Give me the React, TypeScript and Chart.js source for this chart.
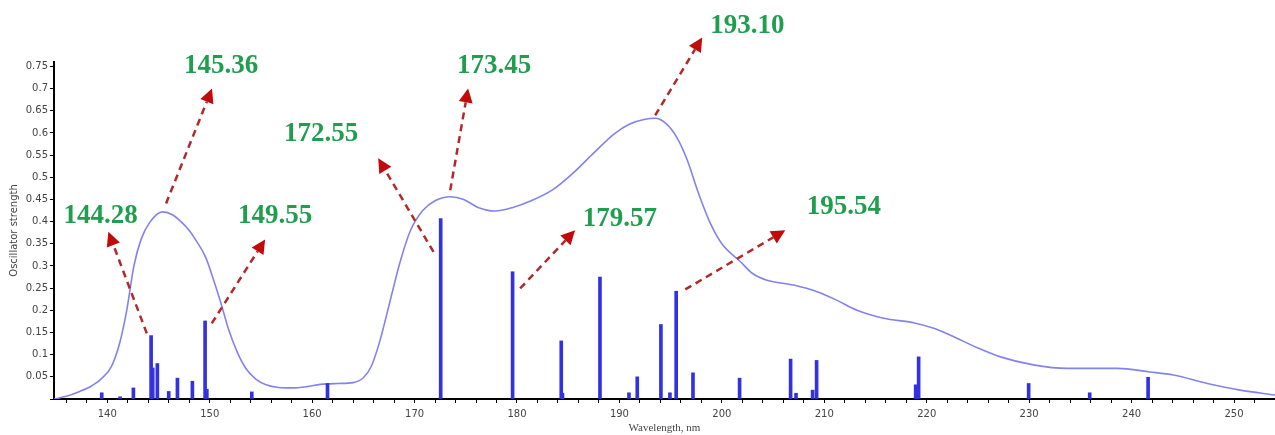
import React, { useEffect, useRef } from 'react';
import { Chart, registerables } from 'chart.js';

Chart.register(...registerables);

// Broadened spectrum (wavelength nm, oscillator strength)
const curveWavelength = [
  134.8, 136.0, 137.3, 138.5, 139.3, 140.4, 141.2, 141.9, 142.6, 143.3, 144.2, 145.4,
  146.4, 147.2, 148.0, 148.6, 149.6, 150.5, 151.1, 151.8, 152.7, 153.5, 154.5, 155.5,
  156.7, 158.0, 159.5, 160.8, 162.5, 164.0, 165.0, 165.8, 166.6, 167.6, 168.6, 169.6,
  170.8, 172.0, 173.5, 174.8, 176.2, 177.8, 179.6, 181.5, 183.5, 185.5, 187.5, 189.5,
  191.0, 192.5, 193.5, 194.5, 195.6, 196.6, 197.7, 198.8, 200.0, 201.8, 203.0, 204.4, 207.0,
  209.3, 211.2, 213.2, 215.8, 218.7, 220.6, 222.3, 225.0, 227.2, 230.4, 233.7, 238.6,
  241.8, 244.1, 247.4, 250.6, 254.0,
];
const curveStrength = [
  0.0, 0.006, 0.017, 0.03, 0.043, 0.073, 0.125, 0.2, 0.3, 0.36, 0.4, 0.422,
  0.415, 0.4, 0.38, 0.36, 0.32, 0.26, 0.216, 0.16, 0.105, 0.07, 0.045, 0.032,
  0.026, 0.025, 0.028, 0.033, 0.035, 0.037, 0.048, 0.075, 0.13, 0.22, 0.31, 0.38,
  0.425, 0.447, 0.456, 0.45, 0.432, 0.424, 0.432, 0.448, 0.472, 0.51, 0.555, 0.598,
  0.62, 0.631, 0.633, 0.622, 0.59, 0.54, 0.465, 0.4, 0.35, 0.31, 0.283, 0.268, 0.257,
  0.242, 0.223, 0.2, 0.182, 0.172, 0.16, 0.144, 0.115, 0.095, 0.077, 0.069, 0.069,
  0.061, 0.054, 0.035, 0.02, 0.009,
];

// Individual transitions (stick spectrum)
const barWavelength = [
  139.46, 141.25, 142.55, 144.28, 144.44, 144.89, 146.0, 146.85, 148.31, 149.55, 149.72,
  154.11, 161.5, 172.55, 179.57, 184.32, 184.44, 188.1, 190.93, 191.74, 194.05, 194.93,
  195.54, 197.18, 201.73, 206.71, 207.24, 208.86, 209.25, 218.92, 219.21, 229.95, 235.91,
  241.61,
];
const barStrength = [
  0.014, 0.005, 0.025, 0.143, 0.07, 0.08, 0.017, 0.047, 0.04, 0.176, 0.022,
  0.016, 0.035, 0.407, 0.287, 0.131, 0.013, 0.275, 0.014, 0.05, 0.168, 0.014,
  0.243, 0.059, 0.047, 0.09, 0.013, 0.02, 0.087, 0.032, 0.095, 0.035, 0.014,
  0.049,
];

const xTickValues = [
  136, 138, 140, 142, 144, 146, 148, 150, 152, 154, 156, 158, 160, 162, 164, 166, 168, 170,
  172, 174, 176, 178, 180, 182, 184, 186, 188, 190, 192, 194, 196, 198, 200, 202, 204, 206,
  208, 210, 212, 214, 216, 218, 220, 222, 224, 226, 228, 230, 232, 234, 236, 238, 240, 242,
  244, 246, 248, 250, 252, 254,
];
const xLabelValues = [140, 150, 160, 170, 180, 190, 200, 210, 220, 230, 240, 250];
const yTickValues = [
  0, 0.05, 0.1, 0.15, 0.2, 0.25, 0.3, 0.35, 0.4, 0.45, 0.5, 0.55, 0.6, 0.65, 0.7, 0.75,
];

const peakLabels = ['144.28', '145.36', '149.55', '172.55', '173.45', '193.10', '179.57', '195.54'];

// Annotation placement in data space: label centre, arrow tail, arrow tip
const annotations = [
  { text: 0, at: [139.35, 0.4167], from: [143.86, 0.148], to: [140.11, 0.377] },
  { text: 1, at: [151.11, 0.7556], from: [145.74, 0.441], to: [150.23, 0.7] },
  { text: 2, at: [156.39, 0.4167], from: [150.2, 0.1705], to: [155.41, 0.3597] },
  { text: 3, at: [160.88, 0.6014], from: [171.85, 0.3318], to: [166.45, 0.5428] },
  { text: 4, at: [177.77, 0.7545], from: [173.48, 0.4707], to: [175.23, 0.7005] },
  { text: 5, at: [202.48, 0.8468], from: [193.49, 0.6396], to: [198.08, 0.8153] },
  { text: 6, at: [190.04, 0.4099], from: [180.31, 0.2493], to: [185.67, 0.3806] },
  { text: 7, at: [211.9, 0.4369], from: [196.43, 0.2471], to: [206.19, 0.3806] },
];

const annotationPlugin = {
  id: 'peakAnnotations',
  afterDatasetsDraw(chart: any) {
    const { ctx } = chart;
    const xs = chart.scales.x;
    const ys = chart.scales.y;
    ctx.save();
    annotations.forEach((a) => {
      const x0 = xs.getPixelForValue(a.from[0]);
      const y0 = ys.getPixelForValue(a.from[1]);
      const x1 = xs.getPixelForValue(a.to[0]);
      const y1 = ys.getPixelForValue(a.to[1]);
      const ang = Math.atan2(y1 - y0, x1 - x0);
      const headLen = 14;
      const headW = 7;
      const bx = x1 - headLen * Math.cos(ang);
      const by = y1 - headLen * Math.sin(ang);
      ctx.setLineDash([7, 5]);
      ctx.lineWidth = 2.5;
      ctx.strokeStyle = '#b02a2a';
      ctx.beginPath();
      ctx.moveTo(x0, y0);
      ctx.lineTo(bx, by);
      ctx.stroke();
      ctx.setLineDash([]);
      ctx.fillStyle = '#c20a0a';
      ctx.beginPath();
      ctx.moveTo(x1, y1);
      ctx.lineTo(bx + headW * Math.sin(ang), by - headW * Math.cos(ang));
      ctx.lineTo(bx - headW * Math.sin(ang), by + headW * Math.cos(ang));
      ctx.closePath();
      ctx.fill();

      const px = xs.getPixelForValue(a.at[0]);
      const py = ys.getPixelForValue(a.at[1]);
      ctx.font = 'bold 27px "Liberation Serif"';
      ctx.fillStyle = '#1f9e4e';
      ctx.textAlign = 'center';
      ctx.textBaseline = 'alphabetic';
      ctx.fillText(peakLabels[a.text], px, py + 9);
    });
    ctx.restore();
  },
};

export default function App() {
  const canvasRef = useRef<HTMLCanvasElement | null>(null);

  useEffect(() => {
    document.body.style.margin = '0';
    const canvas = canvasRef.current;
    if (!canvas) return;

    const chart = new Chart(canvas, {
      type: 'bar',
      data: {
        datasets: [
          {
            type: 'line',
            data: curveWavelength.map((w, i) => ({ x: w, y: curveStrength[i] })),
            borderColor: '#8282f0',
            borderWidth: 1.6,
            pointRadius: 0,
            fill: false,
            cubicInterpolationMode: 'monotone',
            order: 2,
          } as any,
          {
            type: 'bar',
            data: barWavelength.map((w, i) => ({ x: w, y: barStrength[i] })),
            backgroundColor: '#3232e2',
            borderWidth: 0,
            barThickness: 3,
            grouped: false,
            order: 1,
          } as any,
        ],
      },
      options: {
        animation: false,
        responsive: false,
        devicePixelRatio: 1,
        layout: { padding: { top: 62, left: 0, right: 0, bottom: 0 } },
        plugins: {
          legend: { display: false },
          tooltip: { enabled: false },
        },
        scales: {
          x: {
            type: 'linear',
            min: 134.8,
            max: 254,
            offset: false,
            afterBuildTicks: (s: any) => {
              s.ticks = xTickValues.map((v) => ({ value: v }));
            },
            afterFit: (s: any) => {
              s.height = 36;
              s.paddingLeft = 0;
              s.paddingRight = 0;
            },
            ticks: {
              autoSkip: false,
              maxRotation: 0,
              minRotation: 0,
              padding: 5,
              color: '#444',
              font: { family: 'DejaVu Sans', size: 10 },
              callback: (v: any) => (xLabelValues.includes(Number(v)) ? String(v) : ''),
            },
            grid: {
              offset: false,
              drawOnChartArea: false,
              drawTicks: true,
              tickLength: 4,
              tickColor: '#000',
              tickWidth: 1,
            },
            border: { display: true, color: '#000', width: 2 },
            title: {
              display: true,
              text: 'Wavelength, nm',
              color: '#444',
              font: { family: 'Liberation Serif', size: 11 },
              padding: { top: 0, bottom: 0 },
            },
          } as any,
          y: {
            type: 'linear',
            min: 0,
            max: 0.76,
            afterBuildTicks: (s: any) => {
              s.ticks = yTickValues.map((v) => ({ value: v }));
            },
            afterFit: (s: any) => {
              s.width = 54;
            },
            ticks: {
              padding: 2,
              color: '#444',
              font: { family: 'DejaVu Sans', size: 10 },
              callback: (v: any) => (Number(v) === 0 ? '' : String(parseFloat(Number(v).toFixed(2)))),
            },
            grid: {
              drawOnChartArea: false,
              drawTicks: true,
              tickLength: 4,
              tickColor: '#000',
              tickWidth: 1,
            },
            border: { display: true, color: '#000', width: 2 },
            title: {
              display: true,
              text: 'Oscillator strength',
              color: '#444',
              font: { family: 'DejaVu Sans', size: 10 },
              padding: { top: 8, bottom: 0 },
            },
          } as any,
        },
      } as any,
      plugins: [annotationPlugin],
    });

    return () => {
      chart.destroy();
    };
  }, []);

  return (
    <div style={{ width: 1275, height: 435, background: '#fff' }}>
      <canvas ref={canvasRef} width={1275} height={435} style={{ display: 'block' }} />
    </div>
  );
}
